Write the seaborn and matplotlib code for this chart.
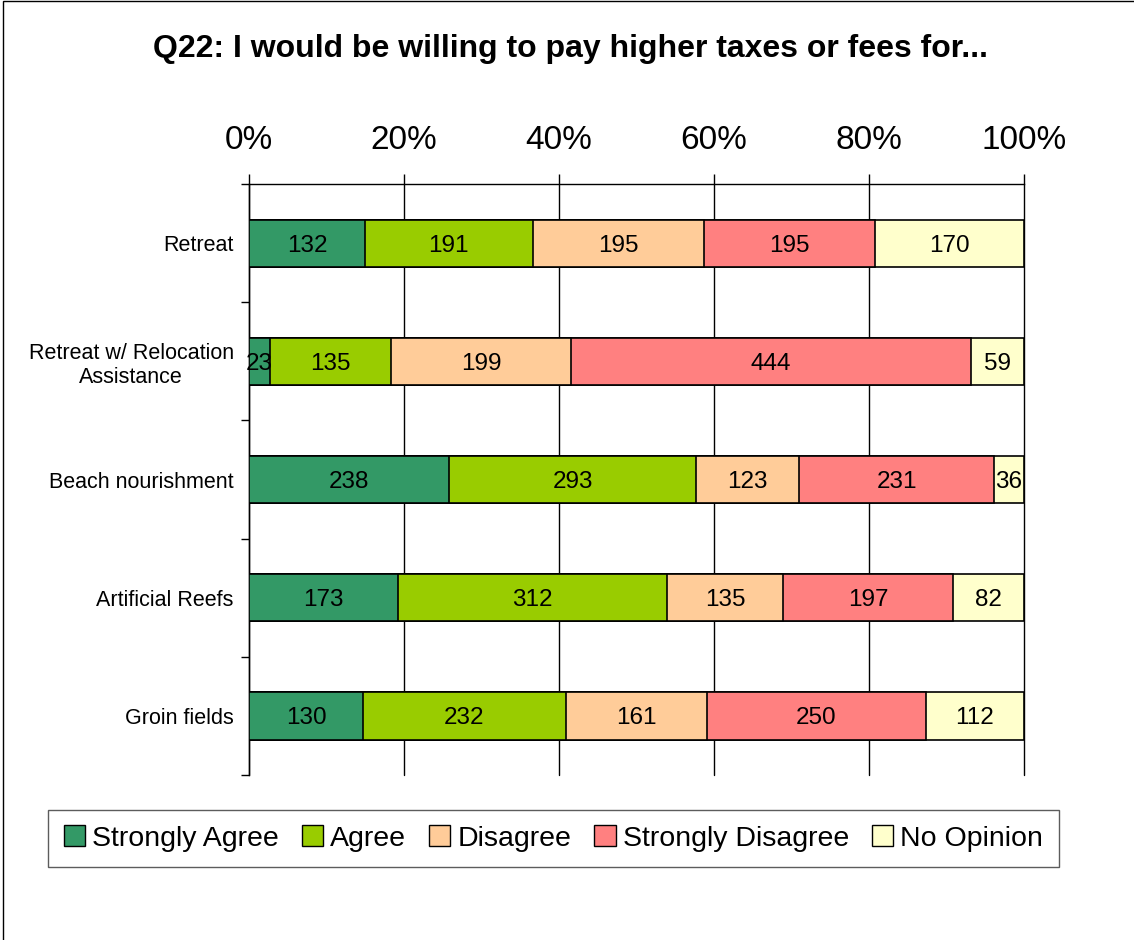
import numpy as np
import pandas as pd
import matplotlib
matplotlib.use('Agg')
import matplotlib.pyplot as plt
import seaborn as sns
from matplotlib.patches import Patch, Rectangle

categories = ["Retreat", "Retreat w/ Relocation\nAssistance", "Beach nourishment",
              "Artificial Reefs", "Groin fields"]
responses = ["Strongly Agree", "Agree", "Disagree", "Strongly Disagree", "No Opinion"]
strongly_agree = [132, 23, 238, 173, 130]
agree = [191, 135, 293, 312, 232]
disagree = [195, 199, 123, 135, 161]
strongly_disagree = [195, 444, 231, 197, 250]
no_opinion = [170, 59, 36, 82, 112]
colors = ['#339966', '#99CC00', '#FFCC99', '#FF8080', '#FFFFCC']

sns.set_theme(style='white')
plt.rcParams['font.family'] = ['Liberation Sans', 'DejaVu Sans']
plt.rcParams['text.color'] = 'black'
plt.rcParams['xtick.color'] = 'black'
plt.rcParams['ytick.color'] = 'black'

counts = np.array([strongly_agree, agree, disagree, strongly_disagree, no_opinion], dtype=float).T
pct = counts / counts.sum(axis=1, keepdims=True) * 100
cum = np.cumsum(pct, axis=1)

fig = plt.figure(figsize=(11.34, 9.4), dpi=100)
ax = fig.add_axes([0.2196, 0.1755, 0.6834, 0.6287])

# stacked bars: draw the cumulative totals from the right end backwards
for i in reversed(range(len(responses))):
    df = pd.DataFrame({'cat': categories, 'val': cum[:, i]})
    sns.barplot(data=df, x='val', y='cat', color=colors[i], edgecolor='black',
                linewidth=1.2, width=0.4, orient='h', ax=ax, saturation=1, zorder=3)

for r in range(len(categories)):
    for i in range(len(responses)):
        start = cum[r, i - 1] if i > 0 else 0
        ax.text((start + cum[r, i]) / 2, r, f"{int(counts[r, i])}", ha='center',
                va='center_baseline', fontsize=17.5, color='black', zorder=5)

ax.set_xlim(0, 100)
ax.set_ylim(len(categories) - 0.5, -0.5)
ax.xaxis.tick_top()
ax.set_xticks([0, 20, 40, 60, 80, 100])
ax.set_xticklabels(['0%', '20%', '40%', '60%', '80%', '100%'], fontsize=24)
ax.tick_params(axis='x', which='major', direction='out', length=7, width=1, color='black',
               pad=13, top=True, bottom=False)
ax.grid(axis='x', color='black', linewidth=1, zorder=0)
ax.grid(axis='y', visible=False)
ax.set_axisbelow(True)
for gl in ax.get_xgridlines():
    gl.set_clip_on(False)

ax.set_yticks(range(len(categories)))
ax.set_yticklabels(categories, fontsize=15.5, ha='right', multialignment='center')
ax.tick_params(axis='y', which='major', length=0, pad=11)
ax.set_yticks(np.arange(-0.5, len(categories), 1), minor=True)
ax.tick_params(axis='y', which='minor', direction='out', length=6, width=1, color='black', left=True)
ax.set_xlabel('')
ax.set_ylabel('')

for s in ['right', 'bottom']:
    ax.spines[s].set_visible(False)
for s in ['left', 'top']:
    ax.spines[s].set_color('black')
    ax.spines[s].set_linewidth(1)

fig.text(0.503, 0.948, 'Q22: I would be willing to pay higher taxes or fees for...',
         ha='center', va='center', fontsize=23, fontweight='bold')

handles = [Patch(facecolor=c, edgecolor='black', label=l) for c, l in zip(colors, responses)]
leg = fig.legend(handles=handles, loc='center', bbox_to_anchor=(0.488, 0.108), ncol=5,
                 fontsize=20.5, frameon=True, fancybox=False, handlelength=0.75, handleheight=0.75,
                 handletextpad=0.25, columnspacing=0.8, borderpad=0.55)
leg.get_frame().set_edgecolor('#333333')
leg.get_frame().set_linewidth(1)

fig.patches.append(Rectangle((0.0027, -0.01), 1.0, 1.0089, transform=fig.transFigure,
                             fill=False, edgecolor='black', linewidth=1))

fig.savefig('out.png', dpi=100, facecolor='white')
